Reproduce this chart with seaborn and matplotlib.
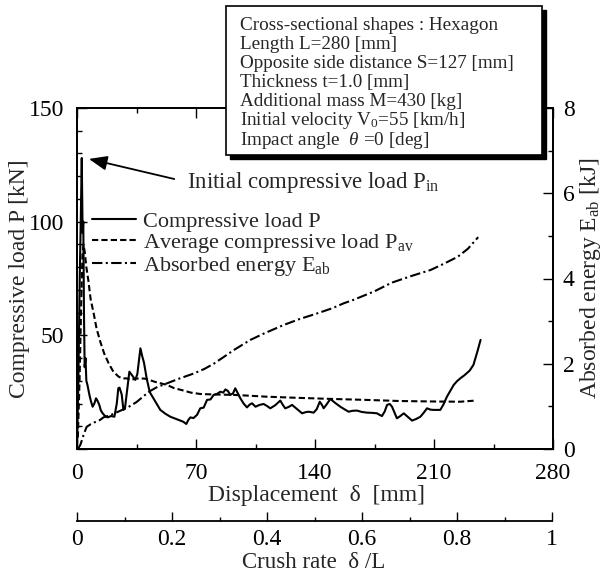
import matplotlib
matplotlib.use("Agg")
import matplotlib.pyplot as plt
from matplotlib.patches import Rectangle
from matplotlib.ticker import MultipleLocator, FuncFormatter
import pandas as pd
import seaborn as sns

# Compressive load history P [kN] vs displacement [mm]
disp_p = [0, 0.8, 1.6, 2.2, 2.8, 3.3, 3.7, 4.1, 4.5, 5.0, 5.5, 6.2, 7.3, 8.2, 9.2, 10.2,
          11.2, 12.2, 13.1, 14, 15.1, 16.5, 18, 20, 22, 23.4, 24.3, 25, 26.3, 27.3, 28.2,
          29.5, 30.8, 32.3, 34.3, 35.5, 37.3, 38.3, 39.4, 41, 42.8, 45.5, 49, 52, 54.9,
          58, 60.8, 62.5, 64.3, 65.5, 66.7, 68.5, 70.6, 72.5, 74.5, 76.5, 78.5, 80.4,
          82.3, 84.3, 86, 87.3, 88.8, 90.2, 91.8, 93.1, 94.6, 96.1, 98, 100, 101.5, 103,
          105, 107.4, 109.8, 111.8, 113.7, 116.5, 119.6, 121, 122.5, 124.5, 126.5, 129.5,
          132.4, 134.5, 136.3, 139.2, 141, 142.8, 144, 145.1, 147, 149, 152, 154.9, 157.5,
          159.8, 162, 164.7, 167.5, 170.6, 173.5, 176.5, 178, 179.4, 181, 182.4, 184,
          185.3, 186.8, 188.2, 190.2, 192.2, 194.5, 197.1, 199.5, 202, 204, 205.9, 208,
          209.8, 212, 213.7, 215.5, 217.6, 219.5, 221.6, 223.5, 225.5, 228, 231, 233.2,
          235.5, 237.4]
load_p = [0, 30, 75, 100, 128, 95, 100, 60, 36, 40, 30, 28, 23.8, 21, 18.6, 20,
          22.3, 21, 19.4, 17, 15.7, 14.5, 13.9, 14.5, 14.2, 20, 26.7, 27, 24, 17.2, 17.9,
          26, 34, 32.5, 30.4, 33, 44.3, 41, 38, 31, 25, 21.6, 17.2, 15.5, 14.2,
          13.3, 12.5, 12, 11, 12.8, 13.9, 13.6, 15, 17.9, 18.2, 21.6, 21.8, 23.8,
          24.2, 25.2, 24.8, 26.2, 25.5, 23.8, 24.5, 26.7, 24.5, 22.3, 20, 18.3, 19.5, 20.1,
          18.6, 19.4, 19.8, 18.9, 17.9, 19.2, 21.3, 19.5, 17.9, 18.5, 19.4, 17.5,
          15.7, 16.2, 16.4, 16, 17.5, 20.8, 19.5, 17.9, 19.8, 22, 20.2, 18.6, 17.4,
          16.4, 16.8, 16.9, 16.3, 16, 15.9, 15.7, 15, 14.5, 16.5, 19.4, 19.8,
          18.6, 16, 13.5, 14.5, 15.7, 14.2, 12.5, 13.2, 14.2, 16, 17.9, 17.3,
          17.2, 17.2, 17.2, 19.5, 23, 25.5, 28.2, 29.8, 31.1, 32.5, 34.5, 37,
          42.8, 48]

# Average compressive load P_av [kN]
disp_av = [0.5, 1.5, 2.5, 3.2, 3.8, 4.5, 5.5, 6.7, 8, 9.8, 11.5, 13.7, 16, 18.6, 21.4,
           24.5, 27, 29.2, 31.4, 35, 39.2, 41, 46, 52.9, 57, 62.7, 67, 72.5, 80, 92.2,
           100, 111.8, 130, 151, 170, 190.2, 210, 225.5, 234.4]
load_av = [5, 30, 65, 85, 90, 87, 80, 74, 66, 59.7, 53, 47.2, 42, 37.7, 34,
           31.8, 31, 31.1, 30.4, 31, 31, 30.8, 29.5, 28.2, 26.8, 25.7, 24.8, 24.2, 24, 23.8,
           23.5, 23, 22.5, 22, 21.6, 21.1, 20.9, 20.8, 21.3]

# Absorbed energy E_ab [kJ]
disp_e = [0, 1, 2, 3, 4, 5, 5.7, 8, 10, 13.5, 15.5, 20, 27.3, 29.2, 35, 41, 43, 47, 52.9,
          60, 68.6, 75, 80.4, 86, 92.2, 102, 110, 121.6, 131, 141.2, 150, 157, 162.7,
          175, 185, 196, 208, 216, 224, 230, 236]
energy = [0, 0.03, 0.1, 0.22, 0.35, 0.45, 0.52, 0.58, 0.62, 0.68, 0.74, 0.8, 0.93, 0.96,
          1.1, 1.3, 1.36, 1.45, 1.54, 1.65, 1.77, 1.88, 2.0, 2.15, 2.32, 2.56, 2.71, 2.91,
          3.05, 3.18, 3.3, 3.42, 3.5, 3.7, 3.9, 4.05, 4.2, 4.35, 4.51, 4.7, 4.97]

disp_ticks = [0, 70, 140, 210, 280]
crush_ticks = [0, 0.2, 0.4, 0.6, 0.8, 1.0]

legend_labels = ["Compressive load P",
                 "Average compressive load P$_{\\mathrm{av}}$",
                 "Absorbed energy E$_{\\mathrm{ab}}$"]
info_lines = ["Cross-sectional shapes : Hexagon",
              "Length L=280 [mm]",
              "Opposite side distance S=127 [mm]",
              "Thickness t=1.0 [mm]",
              "Additional mass M=430 [kg]",
              "Initial velocity V$_0$=55 [km/h]",
              "Impact angle  $\\theta$ =0 [deg]"]

sns.set_theme(style="ticks")
plt.rcParams.update({
    "font.family": ["Liberation Serif", "DejaVu Serif"],
    "mathtext.fontset": "custom",
    "mathtext.rm": "Liberation Serif",
    "mathtext.it": "Liberation Serif:italic",
    "mathtext.bf": "Liberation Serif:bold",
    "axes.linewidth": 1.3,
    "axes.edgecolor": "black",
    "xtick.color": "black",
    "ytick.color": "black",
})

W, H = 613, 574
fig = plt.figure(figsize=(W / 100, H / 100), dpi=100)
L, R, T, B = 77, 553, 108, 449
ax = fig.add_axes([L / W, 1 - B / H, (R - L) / W, (B - T) / H])
ax.set_facecolor("none")

df_p = pd.DataFrame({"d": disp_p, "P": load_p})
df_av = pd.DataFrame({"d": disp_av, "P": load_av})
df_e = pd.DataFrame({"d": disp_e, "E": energy})

lw = 1.5
sns.lineplot(data=df_p, x="d", y="P", ax=ax, color="black", lw=lw,
             estimator=None, sort=False, label=legend_labels[0], legend=False)
sns.lineplot(data=df_av, x="d", y="P", ax=ax, color="black", lw=lw,
             linestyle=(0, (3.0, 1.5)), estimator=None, sort=False,
             label=legend_labels[1], legend=False)

ax2 = ax.twinx()
sns.lineplot(data=df_e, x="d", y="E", ax=ax2, color="black", lw=lw,
             linestyle=(0, (5.0, 1.6, 1.0, 1.6)), estimator=None, sort=False,
             label=legend_labels[2], legend=False)

ax.set_xlim(0, 280)
ax.set_ylim(0, 150)
ax2.set_ylim(0, 8)
ax.set_xticks(disp_ticks)
ax.xaxis.set_minor_locator(MultipleLocator(35))
ax.yaxis.set_major_locator(MultipleLocator(50))
ax.yaxis.set_minor_locator(MultipleLocator(10))
ax.yaxis.set_major_formatter(FuncFormatter(lambda v, _: "" if v == 0 else f"{v:g}"))
ax2.yaxis.set_major_locator(MultipleLocator(2))
ax2.yaxis.set_minor_locator(MultipleLocator(1))

tick_fs = 17
ax.tick_params(axis="x", which="both", direction="in", top=True, bottom=True,
               labelsize=tick_fs, pad=10)
ax.tick_params(axis="y", which="both", direction="in", left=True, right=False,
               labelsize=tick_fs, pad=9)
ax2.tick_params(axis="y", which="both", direction="in", right=True,
                labelsize=tick_fs, pad=7)
for a in (ax, ax2):
    a.tick_params(which="major", length=7, width=1.0)
    a.tick_params(which="minor", length=3.6, width=1.0)

ax.set_xlabel("Displacement  δ  [mm]", fontsize=tick_fs)
ax.xaxis.set_label_coords(0.504, -0.136)
ax.xaxis.label.set_verticalalignment("center")
ax.set_ylabel("Compressive load P [kN]", fontsize=tick_fs)
ax.yaxis.set_label_coords(-0.12, 0.5)
ax.yaxis.label.set_verticalalignment("center")
ax2.set_ylabel("Absorbed energy E$_{\\mathrm{ab}}$ [kJ]", fontsize=tick_fs, rotation=90)
ax2.yaxis.set_label_coords(1.078, 0.5)
ax2.yaxis.label.set_verticalalignment("center")

# Secondary scale: crush rate delta / L
axc = fig.add_axes([L / W, 1 - 521 / H, (552 - L) / W, 0.0001])
axc.set_facecolor("none")
for s in ("left", "right", "top"):
    axc.spines[s].set_visible(False)
axc.set_xlim(0, 1)
axc.set_xticks(crush_ticks)
axc.xaxis.set_major_formatter(FuncFormatter(lambda v, _: f"{v:g}"))
axc.xaxis.set_minor_locator(MultipleLocator(0.1))
axc.set_yticks([])
axc.tick_params(axis="x", which="both", direction="in", labelsize=tick_fs, pad=6)
axc.tick_params(which="major", length=6.5, width=1.0)
axc.tick_params(which="minor", length=3.0, width=1.0)
axc.set_xlabel("Crush rate  δ /L", fontsize=16.5)
axc.xaxis.set_label_coords(314 / W, 1 - 563 / H, transform=fig.transFigure)
axc.xaxis.label.set_verticalalignment("center")

# Legend
handles = ax.get_lines()[:2] + ax2.get_lines()[:1]
leg = ax2.legend(handles, legend_labels, loc="upper left",
                 bbox_to_anchor=(92 / W, 1 - 211 / H), bbox_transform=fig.transFigure,
                 frameon=False, fontsize=16, handlelength=2.0, handletextpad=0.3,
                 labelspacing=0.0, borderpad=0, borderaxespad=0)

# Initial peak annotation
ax2.annotate("Initial compressive load P$_{\\mathrm{in}}$",
             xy=(7 * 1.0, 127.6 * 8 / 150), xycoords="data",
             xytext=(187 / W, 1 - 182 / H), textcoords="figure fraction",
             fontsize=16.5, ha="left", va="center", annotation_clip=False,
             arrowprops=dict(arrowstyle="-|>,head_length=0.55,head_width=0.22",
                             mutation_scale=20, lw=1.3, color="black",
                             relpos=(0, 0.5), shrinkA=7, shrinkB=0))

# Specification box with drop shadow
bx0, bx1, by0, by1 = 226, 542, 6, 155
shadow = Rectangle((bx0 / W + 4 / W, 1 - by1 / H - 4 / H), (bx1 - bx0) / W, (by1 - by0) / H,
                   transform=fig.transFigure, facecolor="black", edgecolor="black",
                   lw=1.0, zorder=10)
box = Rectangle((bx0 / W, 1 - by1 / H), (bx1 - bx0) / W, (by1 - by0) / H,
                transform=fig.transFigure, facecolor="white", edgecolor="black",
                lw=1.2, zorder=11)
fig.add_artist(shadow)
fig.add_artist(box)
for i, line in enumerate(info_lines):
    fig.text(240 / W, 1 - (25 + 19.2 * i) / H, line, fontsize=13.8, ha="left",
             va="center", zorder=12)

fig.savefig("out.png", dpi=100)
